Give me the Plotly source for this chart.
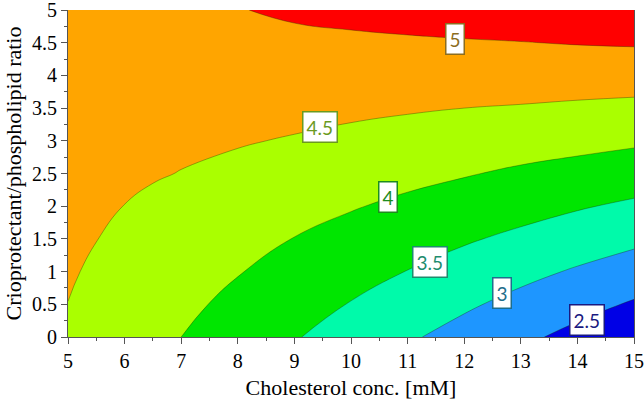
import plotly.graph_objects as go

# Cholesterol conc. [mM] (x) and crioprotectant/phospholipid ratio (y) grid
chol = [5, 5.5, 6, 6.5, 7, 8, 9, 10, 11, 12, 13, 14, 15]
ratio = [0, 0.5, 1, 1.5, 2, 2.5, 3, 3.5, 4, 4.5, 5]

# response values, one row per ratio value
z_rows = [
    [4.47, 4.35, 4.23, 4.12, 4.00, 3.77, 3.53, 3.30, 3.06, 2.83, 2.60, 2.36, 2.13],
    [4.497, 4.40, 4.30, 4.20, 4.10, 3.89, 3.69, 3.48, 3.28, 3.07, 2.86, 2.66, 2.45],
    [4.53, 4.46, 4.36, 4.28, 4.19, 4.02, 3.85, 3.67, 3.49, 3.31, 3.13, 2.95, 2.78],
    [4.56, 4.505, 4.42, 4.35, 4.29, 4.15, 3.99, 3.85, 3.70, 3.55, 3.40, 3.25, 3.10],
    [4.59, 4.54, 4.497, 4.43, 4.38, 4.27, 4.16, 4.03, 3.91, 3.79, 3.67, 3.54, 3.42],
    [4.63, 4.59, 4.55, 4.53, 4.49, 4.40, 4.31, 4.22, 4.12, 4.03, 3.93, 3.84, 3.75],
    [4.66, 4.63, 4.61, 4.59, 4.57, 4.53, 4.47, 4.40, 4.33, 4.27, 4.20, 4.14, 4.07],
    [4.69, 4.68, 4.67, 4.67, 4.66, 4.65, 4.62, 4.58, 4.54, 4.50, 4.47, 4.43, 4.39],
    [4.71, 4.72, 4.73, 4.74, 4.75, 4.76, 4.76, 4.75, 4.74, 4.74, 4.73, 4.72, 4.72],
    [4.74, 4.76, 4.79, 4.81, 4.84, 4.88, 4.91, 4.93, 4.95, 4.97, 4.99, 5.02, 5.04],
    [4.77, 4.81, 4.84, 4.88, 4.92, 4.985, 5.06, 5.11, 5.16, 5.21, 5.26, 5.31, 5.36],
]

levels = [2.5, 3, 3.5, 4, 4.5, 5]
band_colors = ["#0000E6", "#1E96FF", "#00FAAA", "#00E600", "#AAFF00", "#FFA500", "#FF0000"]
label_colors = ["#1A1A80", "#1F6E8C", "#1E8C6E", "#1E8C1E", "#6B9A1F", "#8C6D1F"]

# where the boxed level labels sit
label_xy = [(14.17, 0.26), (12.67, 0.68), (11.40, 1.14), (10.65, 2.14), (9.45, 3.21), (11.84, 4.55)]

n = len(band_colors) - 1
colorscale = [[i / n, c] for i, c in enumerate(band_colors)]

fig = go.Figure()
fig.add_trace(go.Contour(
    x=chol,
    y=ratio,
    z=z_rows,
    colorscale=colorscale,
    showscale=False,
    contours=dict(start=levels[0], end=levels[-1], size=0.5, coloring="fill"),
    line=dict(color="rgba(30,40,0,0.35)", width=1, smoothing=1.3),
    hoverinfo="skip",
))

for lev, (lx, ly), col in zip(levels, label_xy, label_colors):
    fig.add_annotation(
        x=lx, y=ly, text=f"{lev:g}", showarrow=False,
        font=dict(family="Lato, Open Sans, sans-serif", size=19, color=col),
        bgcolor="white", bordercolor=col, borderwidth=1.5, borderpad=3,
    )

serif = "'Liberation Serif', 'Times New Roman', serif"
tick_font = dict(family=serif, size=20, color="black")
title_font = dict(family=serif, size=22, color="black")

fig.update_xaxes(
    range=[5, 15], dtick=1, tickfont=tick_font, ticklabeloverflow="allow",
    automargin=False,
    title=dict(text="Cholesterol conc. [mM]", font=title_font, standoff=8),
    ticks="outside", ticklen=6, tickcolor="#555", showline=True, linecolor="#555",
    minor=dict(dtick=0.5, ticks="outside", ticklen=3, tickcolor="#555"),
    showgrid=False, zeroline=False,
)
fig.update_yaxes(
    range=[0, 5], dtick=0.5, tickfont=tick_font, ticklabeloverflow="allow",
    automargin=False,
    title=dict(text="Crioprotectant/phospholipid ratio", font=title_font, standoff=4),
    ticks="outside", ticklen=6, tickcolor="#555", showline=True, linecolor="#555",
    mirror=True,
    minor=dict(dtick=0.25, ticks="outside", ticklen=3, tickcolor="#555"),
    showgrid=False, zeroline=False,
)

fig.update_layout(
    width=644, height=401,
    margin=dict(l=68, r=10, t=10, b=64),
    plot_bgcolor="white", paper_bgcolor="white",
    showlegend=False,
)

fig.write_html("out.html", config={"displayModeBar": False},
               post_script="document.body.style.margin='0';")
